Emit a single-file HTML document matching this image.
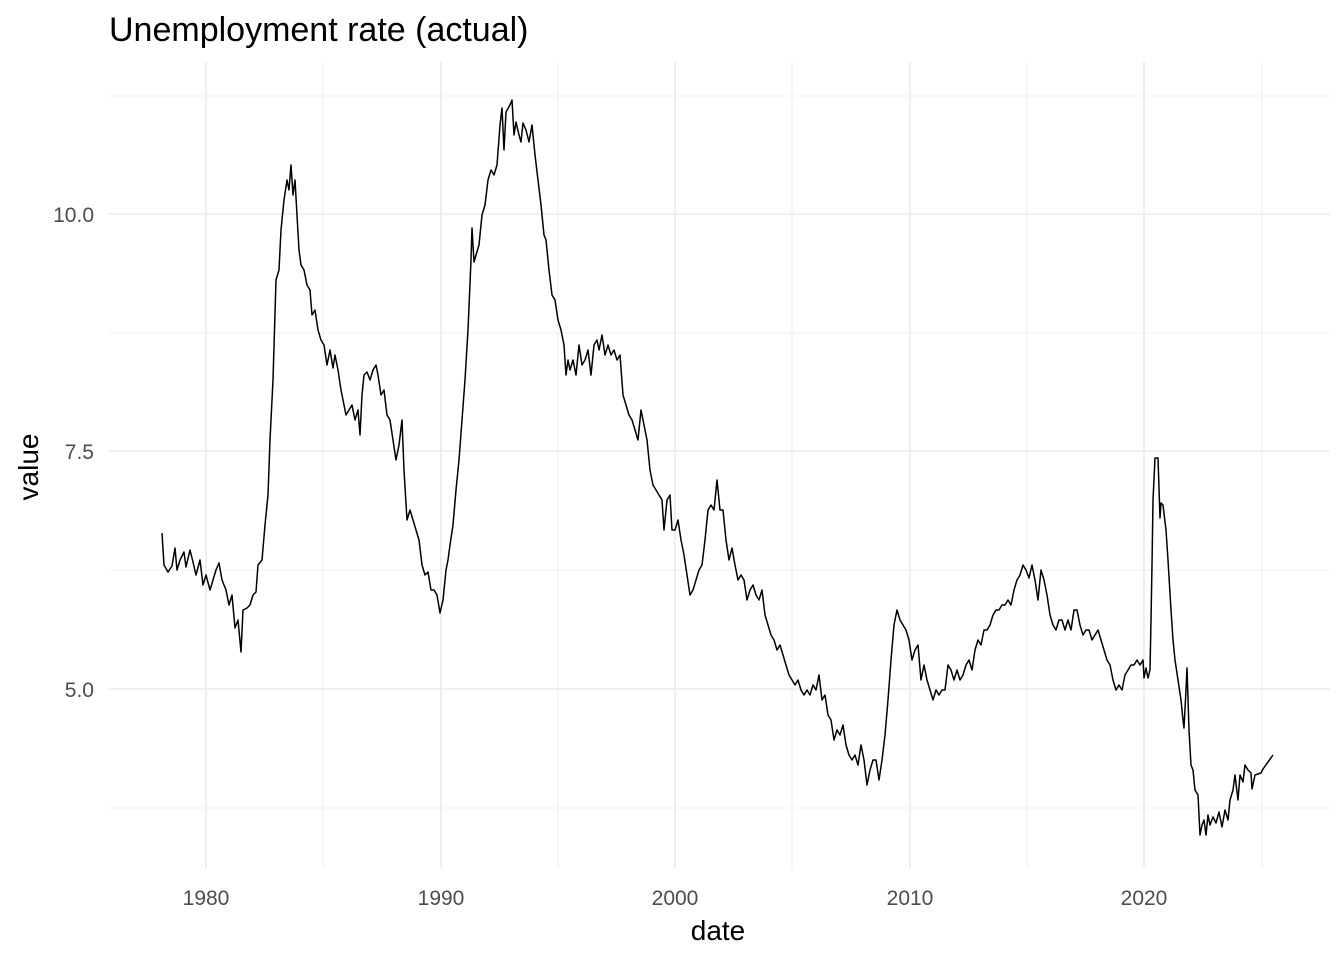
<!DOCTYPE html>
<html><head><meta charset="utf-8"><style>
html,body{margin:0;padding:0;background:#fff;}
svg{display:block;font-family:"Liberation Sans",sans-serif;}
</style></head><body>
<svg width="1344" height="960" viewBox="0 0 1344 960" xmlns="http://www.w3.org/2000/svg">
<rect width="1344" height="960" fill="#fff"/>
<g stroke="#ebebeb" stroke-width="0.8">
<line x1="109" x2="1330" y1="96" y2="96"/><line x1="109" x2="1330" y1="333" y2="333"/>
<line x1="109" x2="1330" y1="570" y2="570"/><line x1="109" x2="1330" y1="808" y2="808"/>
<line x1="323" x2="323" y1="62" y2="868"/><line x1="558" x2="558" y1="62" y2="868"/>
<line x1="792" x2="792" y1="62" y2="868"/><line x1="1027" x2="1027" y1="62" y2="868"/>
<line x1="1262" x2="1262" y1="62" y2="868"/>
</g>
<g stroke="#ebebeb" stroke-width="1.6">
<line x1="109" x2="1330" y1="214" y2="214"/><line x1="109" x2="1330" y1="451" y2="451"/>
<line x1="109" x2="1330" y1="689" y2="689"/>
<line x1="206" x2="206" y1="62" y2="868"/><line x1="441" x2="441" y1="62" y2="868"/>
<line x1="675" x2="675" y1="62" y2="868"/><line x1="910" x2="910" y1="62" y2="868"/>
<line x1="1144" x2="1144" y1="62" y2="868"/>
</g>
<polyline fill="none" stroke="#000" stroke-width="1.5" stroke-linejoin="round" points="162,533 164,565 168,572 172,566 175,548 177,570 180,560 184,552 186,567 190,550 193,562 196,575 200,560 203,585 206,575 210,590 213,580 216,570 219,563 222,580 226,590 229,605 232,595 235,628 238,620 241,652 243,610 247,608 250,605 253,595 256,592 258,565 262,560 265,525 268,495 270,440 273,380 276,280 279,270 281,230 284,200 287,180 289,190 291,165 293,195 295,180 297,215 299,250 301,265 304,270 307,285 310,290 312,315 315,310 318,330 321,340 324,345 327,365 330,350 333,368 335,355 338,370 341,390 344,405 346,415 349,410 352,405 355,420 358,410 360,435 362,395 364,375 367,372 370,380 373,370 376,365 378,375 381,395 384,390 387,415 390,420 393,440 396,460 399,445 402,420 404,470 407,520 410,510 413,520 416,530 419,540 422,565 425,575 428,572 431,590 434,590 437,595 440,613 443,600 446,570 448,560 450,545 453,525 456,490 459,460 462,420 465,380 468,330 471,260 472,228 474,262 476,255 479,245 482,215 485,205 488,180 491,170 494,175 497,165 500,125 502,108 504,150 506,112 510,105 512,100 514,135 516,122 519,135 521,142 523,123 526,130 529,142 532,125 535,155 538,180 541,205 544,235 546,240 549,270 552,295 555,300 558,320 561,330 564,345 566,375 568,360 570,370 573,360 576,375 579,345 582,365 585,360 588,350 591,375 594,345 597,340 599,350 602,335 605,355 608,345 611,355 614,350 617,360 620,355 623,395 626,405 629,415 632,420 635,430 638,440 641,410 644,425 647,440 650,470 653,485 656,490 659,495 662,500 664,530 667,500 670,495 672,530 675,530 678,520 681,540 684,555 687,575 690,595 693,590 696,580 699,570 702,565 705,540 708,510 711,505 714,510 717,480 720,510 723,510 726,540 729,560 732,548 735,565 738,580 741,575 744,580 747,600 750,590 753,585 756,595 759,600 762,590 765,615 768,625 771,635 774,640 777,650 780,645 783,655 786,665 789,675 792,680 795,685 798,680 801,690 804,695 807,690 810,695 813,685 816,690 819,675 822,700 825,695 828,715 831,720 834,740 837,730 840,735 843,725 846,745 849,755 852,760 855,755 858,765 861,745 864,760 867,785 870,770 873,760 876,760 879,780 882,760 885,735 888,700 891,660 894,625 897,610 900,620 903,625 906,630 909,640 912,660 915,650 918,645 921,680 924,665 927,680 930,690 933,700 936,690 939,695 942,690 945,690 948,665 951,670 954,680 957,670 960,680 963,675 966,665 969,660 972,670 975,650 978,640 981,645 984,630 987,630 990,625 993,615 996,610 999,610 1002,605 1005,605 1008,600 1011,605 1014,590 1017,580 1020,575 1023,565 1026,570 1029,578 1032,565 1035,580 1038,600 1041,570 1044,580 1047,595 1050,615 1053,625 1056,630 1059,620 1062,620 1065,630 1068,620 1071,630 1074,610 1077,610 1080,625 1083,635 1086,630 1089,630 1092,640 1095,635 1098,630 1101,640 1104,650 1107,660 1110,665 1113,680 1116,690 1119,685 1122,690 1125,675 1128,670 1131,665 1134,665 1137,660 1140,665 1143,660 1144,678 1146,668 1148,678 1150,670 1151,620 1152,565 1153,500 1155,458 1158,458 1160,518 1161,503 1163,505 1166,530 1168,560 1171,610 1173,640 1175,660 1178,680 1181,700 1183,720 1184,728 1186,690 1187,668 1189,730 1191,765 1193,770 1195,790 1198,795 1199,815 1200,835 1202,825 1204,820 1206,835 1208,815 1210,825 1213,817 1216,823 1219,812 1222,827 1225,810 1228,820 1230,800 1233,790 1235,775 1238,800 1240,775 1243,782 1245,765 1248,770 1251,773 1252,789 1255,775 1258,774 1261,773 1263,769 1273,755"/>
<text x="109" y="41" font-size="34" fill="#000">Unemployment rate (actual)</text>
<g font-size="21" fill="#4d4d4d" text-anchor="end">
<text x="94" y="222">10.0</text><text x="94" y="459">7.5</text><text x="94" y="697">5.0</text>
</g>
<g font-size="21" fill="#4d4d4d" text-anchor="middle">
<text x="206" y="905">1980</text><text x="441" y="905">1990</text><text x="675" y="905">2000</text>
<text x="910" y="905">2010</text><text x="1144" y="905">2020</text>
</g>
<text x="718" y="940" font-size="28" text-anchor="middle" fill="#000">date</text>
<text transform="translate(38,467) rotate(-90)" font-size="28" text-anchor="middle" fill="#000">value</text>
</svg>
</body></html>
